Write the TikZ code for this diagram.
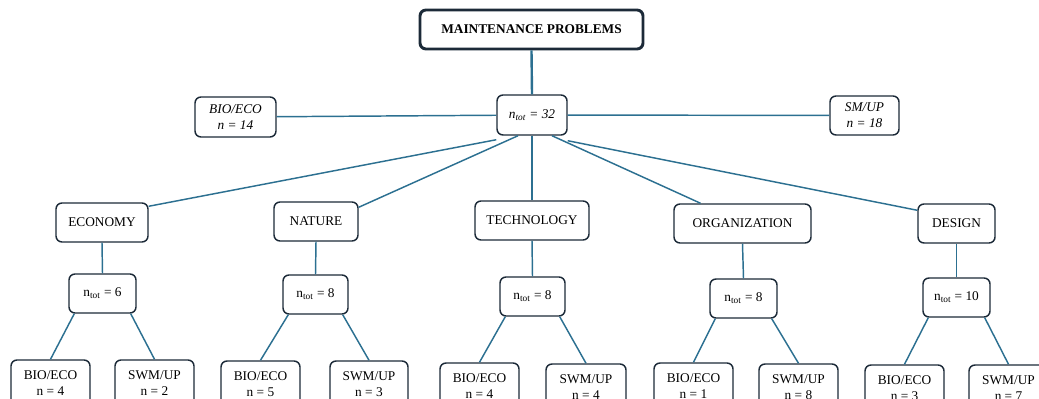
\documentclass[tikz,border=0pt]{standalone}
\usepackage{fontspec}
\setmainfont{Liberation Serif}
\definecolor{bordc}{RGB}{28,42,56}
\definecolor{linec}{RGB}{44,112,145}
\tikzset{
  box/.style={draw=bordc, line width=1.1pt, rounded corners=4.5pt, fill=white, align=center, font=\fontsize{10}{12}\selectfont, inner sep=1pt},
  mainbox/.style={box, line width=2.2pt, font=\bfseries\fontsize{10}{12}\selectfont},
  leaf/.style={box, minimum width=79*0.75pt, minimum height=46*0.75pt},
  conn/.style={draw=linec, line width=1.1pt},
}
\begin{document}
\begin{tikzpicture}[x=0.75pt,y=-0.75pt]
\useasboundingbox (0,0) rectangle (1039,399);
% level 0
\node[mainbox, minimum width=223*0.75pt, minimum height=39*0.75pt] (main) at (531.5,29.5) {MAINTENANCE PROBLEMS};
\node[box, minimum width=70*0.75pt, minimum height=40*0.75pt, font=\itshape\fontsize{10}{12}\selectfont] (t32) at (532,115) {n\textsubscript{tot} = 32};
\node[box, minimum width=81*0.75pt, minimum height=40*0.75pt, font=\itshape\fontsize{10}{12}\selectfont] (b14) at (235.5,117) {BIO/ECO\\n = 14};
\node[box, minimum width=69*0.75pt, minimum height=39*0.75pt, font=\itshape\fontsize{10}{12}\selectfont] (s18) at (864.5,115.5) {SM/UP\\n = 18};
% categories
\node[box, minimum width=92*0.75pt, minimum height=39*0.75pt] (eco) at (102,222.5) {ECONOMY};
\node[box, minimum width=84*0.75pt, minimum height=39*0.75pt] (nat) at (316,221.5) {NATURE};
\node[box, minimum width=114*0.75pt, minimum height=39*0.75pt] (tec) at (532,220.5) {TECHNOLOGY};
\node[box, minimum width=137*0.75pt, minimum height=39*0.75pt] (org) at (742.5,223.5) {ORGANIZATION};
\node[box, minimum width=77*0.75pt, minimum height=39*0.75pt] (des) at (956.5,223.5) {DESIGN};
% totals
\node[box, minimum width=67*0.75pt, minimum height=39*0.75pt] (n1) at (102.5,293.5) {n\textsubscript{tot} = 6};
\node[box, minimum width=65*0.75pt, minimum height=39*0.75pt] (n2) at (315.5,294.5) {n\textsubscript{tot} = 8};
\node[box, minimum width=65*0.75pt, minimum height=39*0.75pt] (n3) at (532.5,296.5) {n\textsubscript{tot} = 8};
\node[box, minimum width=67*0.75pt, minimum height=39*0.75pt] (n4) at (743.5,298.5) {n\textsubscript{tot} = 8};
\node[box, minimum width=67*0.75pt, minimum height=39*0.75pt] (n5) at (956.5,297.5) {n\textsubscript{tot} = 10};
% leaves (cut by the lower edge of the picture)
\node[leaf] (e1) at (50.5,383) {BIO/ECO\\n = 4};
\node[leaf] (s1) at (154.5,383) {SWM/UP\\n = 2};
\node[leaf] (e2) at (260.5,384) {BIO/ECO\\n = 5};
\node[leaf, minimum width=78*0.75pt] (s2) at (369,384) {SWM/UP\\n = 3};
\node[leaf] (e3) at (479.5,386) {BIO/ECO\\n = 4};
\node[leaf, minimum width=80*0.75pt] (s3) at (586,387) {SWM/UP\\n = 4};
\node[leaf] (e4) at (693.5,386) {BIO/ECO\\n = 1};
\node[leaf] (s4) at (798.5,387) {SWM/UP\\n = 8};
\node[leaf] (e5) at (904.5,388) {BIO/ECO\\n = 3};
\node[leaf] (s5) at (1008.5,388) {SWM/UP\\n = 7};
% connectors
\draw[conn, line width=1.8pt] (main.south) -- (t32.north);
\draw[conn] (t32) -- (b14);
\draw[conn] (t32) -- (s18);
\draw[conn] ([yshift=-4*0.75pt]t32.south west) -- ([yshift=-4*0.75pt]eco.north east);
\draw[conn] ([xshift=-14*0.75pt]t32.south) -- ([yshift=-6*0.75pt]nat.north east);
\draw[conn] (t32.south) -- (tec.north);
\draw[conn] ([xshift=20*0.75pt]t32.south) -- ([xshift=-42*0.75pt]org.north);
\draw[conn] ([yshift=-5*0.75pt]t32.south east) -- ([yshift=-7*0.75pt]des.north west);
\foreach \c/\n in {eco/n1,nat/n2,tec/n3,org/n4,des/n5}{
  \draw[conn] (\c.south) -- (\n.north);
}
\foreach \n/\e/\s in {n1/e1/s1,n2/e2/s2,n3/e3/s3,n4/e4/s4,n5/e5/s5}{
  \draw[conn] ([xshift=6*0.75pt]\n.south west) -- (\e.north);
  \draw[conn] ([xshift=-6*0.75pt]\n.south east) -- (\s.north);
}
\end{tikzpicture}
\end{document}
